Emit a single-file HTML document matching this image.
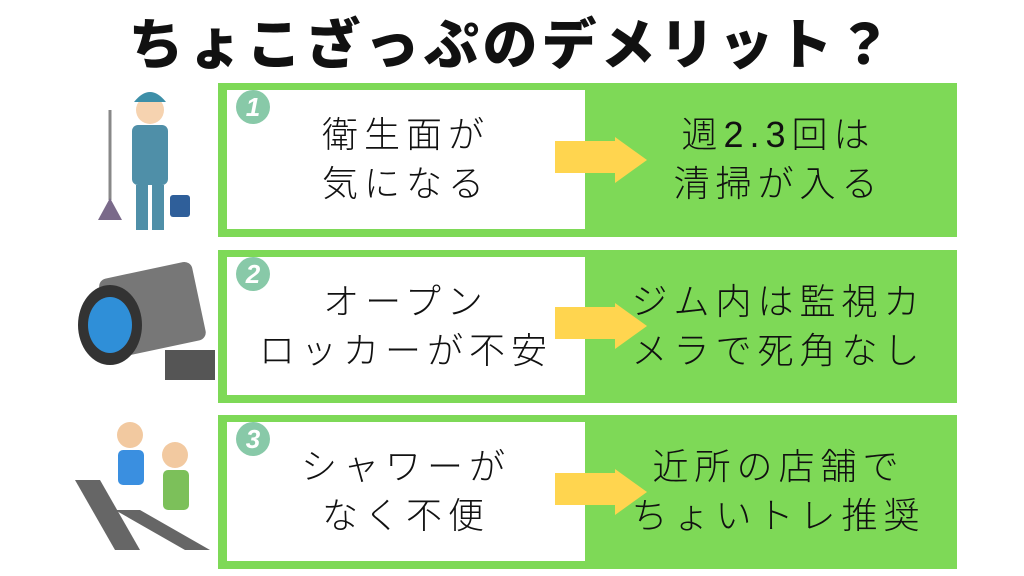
<!DOCTYPE html>
<html><head><meta charset="utf-8"><style>
body{margin:0;width:1024px;height:576px;background:#fff;position:relative;overflow:hidden;font-family:"Liberation Sans","Noto Sans CJK JP",sans-serif}
.t{position:absolute;left:0;width:1024px;top:0px;text-align:center;font-size:55px;font-weight:900;letter-spacing:4px;color:#111}
.g{position:absolute;left:218px;width:739px;background:#7ed957}
.w{position:absolute;left:227px;width:358px;background:#fff}
.n{position:absolute;left:236px;width:34px;height:34px;border-radius:50%;background:#88c9a8;color:#fff;font-style:italic;font-weight:bold;font-size:26px;line-height:34px;text-align:center}
.tx{position:absolute;font-size:36px;line-height:49px;text-align:center;letter-spacing:6px;color:#111;font-weight:300}
.l{left:227px;width:358px}
.r{left:600px;width:357px}
.ar{position:absolute;left:555px;width:92px;height:46px}
</style></head><body>
<div class="t">ちょこざっぷのデメリット？</div>

<div class="g" style="top:83px;height:154px"></div>
<div class="w" style="top:90px;height:139px"></div>
<div class="n" style="top:90px">1</div>
<div class="tx l" style="top:110px">衛生面が<br>気になる</div>
<div class="tx r" style="top:110px">週2.3回は<br>清掃が入る</div>
<svg class="ar" style="top:137px"><polygon points="0,4 60,4 60,0 92,23 60,46 60,36 0,36" fill="#ffd54f"/></svg>

<div class="g" style="top:250px;height:153px"></div>
<div class="w" style="top:257px;height:138px"></div>
<div class="n" style="top:257px">2</div>
<div class="tx l" style="top:277px">オープン<br>ロッカーが不安</div>
<div class="tx r" style="top:277px">ジム内は監視カ<br>メラで死角なし</div>
<svg class="ar" style="top:303px"><polygon points="0,4 60,4 60,0 92,23 60,46 60,36 0,36" fill="#ffd54f"/></svg>

<div class="g" style="top:415px;height:154px"></div>
<div class="w" style="top:422px;height:139px"></div>
<div class="n" style="top:422px">3</div>
<div class="tx l" style="top:442px">シャワーが<br>なく不便</div>
<div class="tx r" style="top:442px">近所の店舗で<br>ちょいトレ推奨</div>
<svg class="ar" style="top:469px"><polygon points="0,4 60,4 60,0 92,23 60,46 60,36 0,36" fill="#ffd54f"/></svg>

<svg style="position:absolute;left:70px;top:80px" width="150" height="490">
 <circle cx="80" cy="30" r="14" fill="#f6d3b0"/>
 <path d="M64 22 Q80 2 96 22 Z" fill="#3d8fa8"/>
 <rect x="62" y="45" width="36" height="60" rx="6" fill="#4f8fa8"/>
 <rect x="66" y="105" width="12" height="45" fill="#4f8fa8"/><rect x="82" y="105" width="12" height="45" fill="#4f8fa8"/>
 <line x1="40" y1="30" x2="40" y2="120" stroke="#888" stroke-width="3"/>
 <path d="M28 140 L40 118 L52 140 Z" fill="#7a6a8a"/>
 <rect x="100" y="115" width="20" height="22" rx="3" fill="#2f5f9a"/>
 <rect x="35" y="190" width="95" height="80" rx="8" fill="#777" transform="rotate(-12 80 230)"/>
 <ellipse cx="40" cy="245" rx="32" ry="40" fill="#333"/>
 <ellipse cx="40" cy="245" rx="22" ry="28" fill="#2f8fd8"/>
 <rect x="95" y="270" width="50" height="30" fill="#555"/>
 <circle cx="60" cy="355" r="13" fill="#f2c9a0"/>
 <rect x="48" y="370" width="26" height="35" rx="5" fill="#3a8fe0"/>
 <circle cx="105" cy="375" r="13" fill="#f2c9a0"/>
 <rect x="93" y="390" width="26" height="40" rx="5" fill="#7cc05a"/>
 <polygon points="5,400 30,400 70,470 45,470" fill="#666"/>
 <polygon points="45,430 70,430 140,470 115,470" fill="#666"/>
</svg>
</body></html>
